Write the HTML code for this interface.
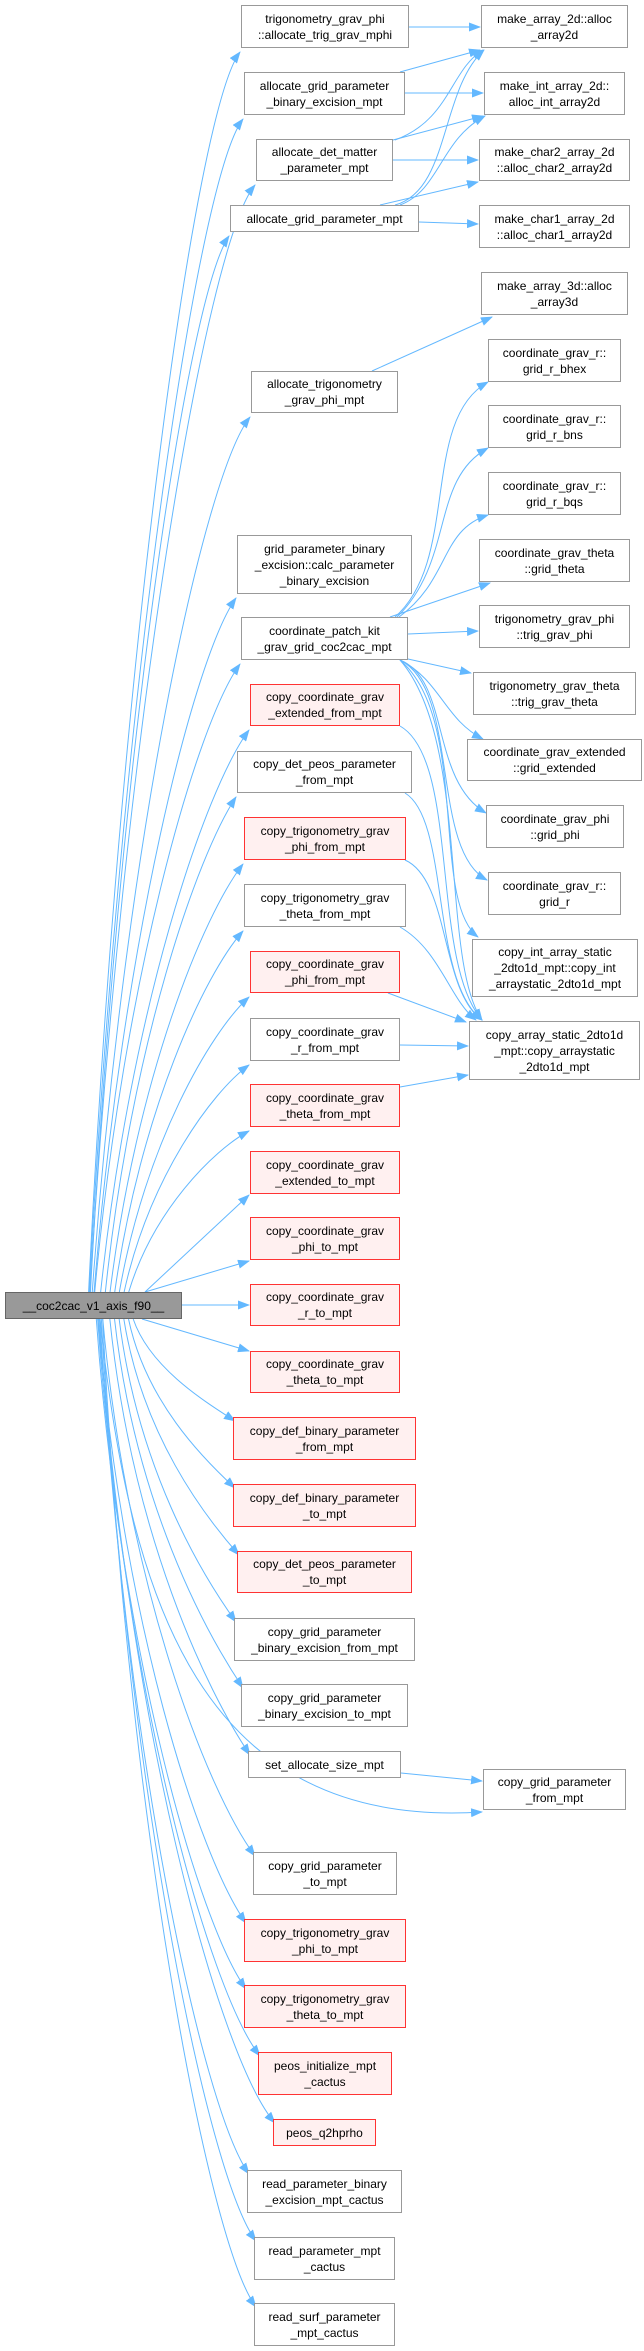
<!DOCTYPE html>
<html><head><meta charset="utf-8">
<style>
html,body{margin:0;padding:0;background:#fff;}
body{width:644px;height:2351px;position:relative;overflow:hidden;font-family:"Liberation Sans",sans-serif;}
.n{position:absolute;box-sizing:border-box;border:1px solid #999;background:#fff;display:flex;align-items:center;justify-content:center;text-align:center;font-size:12px;line-height:16px;color:#000;white-space:nowrap;}
.r{border-color:#f33;background:#fff0f0;}
.m{background:#999;border-color:#666;}
svg{position:absolute;left:0;top:0;}
</style></head><body>
<svg id="s" width="644" height="2351" viewBox="0 0 644 2351">
<defs><marker id="a" markerWidth="12" markerHeight="9" refX="11" refY="4.5" orient="auto" markerUnits="userSpaceOnUse"><path d="M0,0 L12,4.5 L0,9 z" fill="#63b8ff"/></marker></defs>
<g id="g" fill="none" stroke="#63b8ff" stroke-width="1" marker-end="url(#a)"></g>
</svg>

<div class="n m" style="left:5px;top:1292px;width:177px;height:27px">__coc2cac_v1_axis_f90__</div>

<div class="n" style="left:241px;top:5px;width:168px;height:43px">trigonometry_grav_phi<br>::allocate_trig_grav_mphi</div>
<div class="n" style="left:244px;top:72px;width:161px;height:43px">allocate_grid_parameter<br>_binary_excision_mpt</div>
<div class="n" style="left:256px;top:139px;width:137px;height:42px">allocate_det_matter<br>_parameter_mpt</div>
<div class="n" style="left:230px;top:205px;width:189px;height:27px">allocate_grid_parameter_mpt</div>
<div class="n" style="left:251px;top:371px;width:147px;height:42px">allocate_trigonometry<br>_grav_phi_mpt</div>
<div class="n" style="left:237px;top:535px;width:175px;height:59px">grid_parameter_binary<br>_excision::calc_parameter<br>_binary_excision</div>
<div class="n" style="left:241px;top:617px;width:167px;height:43px">coordinate_patch_kit<br>_grav_grid_coc2cac_mpt</div>
<div class="n r" style="left:250px;top:684px;width:150px;height:42px">copy_coordinate_grav<br>_extended_from_mpt</div>
<div class="n" style="left:237px;top:751px;width:175px;height:42px">copy_det_peos_parameter<br>_from_mpt</div>
<div class="n r" style="left:244px;top:817px;width:162px;height:43px">copy_trigonometry_grav<br>_phi_from_mpt</div>
<div class="n" style="left:244px;top:884px;width:162px;height:43px">copy_trigonometry_grav<br>_theta_from_mpt</div>
<div class="n r" style="left:250px;top:951px;width:150px;height:42px">copy_coordinate_grav<br>_phi_from_mpt</div>
<div class="n" style="left:250px;top:1018px;width:150px;height:43px">copy_coordinate_grav<br>_r_from_mpt</div>
<div class="n r" style="left:250px;top:1084px;width:150px;height:43px">copy_coordinate_grav<br>_theta_from_mpt</div>
<div class="n r" style="left:250px;top:1151px;width:150px;height:43px">copy_coordinate_grav<br>_extended_to_mpt</div>
<div class="n r" style="left:250px;top:1217px;width:150px;height:43px">copy_coordinate_grav<br>_phi_to_mpt</div>
<div class="n r" style="left:250px;top:1284px;width:150px;height:42px">copy_coordinate_grav<br>_r_to_mpt</div>
<div class="n r" style="left:250px;top:1351px;width:150px;height:42px">copy_coordinate_grav<br>_theta_to_mpt</div>
<div class="n r" style="left:233px;top:1417px;width:183px;height:43px">copy_def_binary_parameter<br>_from_mpt</div>
<div class="n r" style="left:233px;top:1484px;width:183px;height:43px">copy_def_binary_parameter<br>_to_mpt</div>
<div class="n r" style="left:237px;top:1551px;width:175px;height:42px">copy_det_peos_parameter<br>_to_mpt</div>
<div class="n" style="left:234px;top:1618px;width:181px;height:43px">copy_grid_parameter<br>_binary_excision_from_mpt</div>
<div class="n" style="left:241px;top:1684px;width:167px;height:43px">copy_grid_parameter<br>_binary_excision_to_mpt</div>
<div class="n" style="left:248px;top:1751px;width:153px;height:27px">set_allocate_size_mpt</div>
<div class="n" style="left:253px;top:1852px;width:144px;height:43px">copy_grid_parameter<br>_to_mpt</div>
<div class="n r" style="left:244px;top:1919px;width:162px;height:43px">copy_trigonometry_grav<br>_phi_to_mpt</div>
<div class="n r" style="left:244px;top:1985px;width:162px;height:43px">copy_trigonometry_grav<br>_theta_to_mpt</div>
<div class="n r" style="left:258px;top:2052px;width:134px;height:43px">peos_initialize_mpt<br>_cactus</div>
<div class="n r" style="left:273px;top:2119px;width:103px;height:27px">peos_q2hprho</div>
<div class="n" style="left:247px;top:2170px;width:155px;height:43px">read_parameter_binary<br>_excision_mpt_cactus</div>
<div class="n" style="left:254px;top:2237px;width:141px;height:43px">read_parameter_mpt<br>_cactus</div>
<div class="n" style="left:254px;top:2303px;width:141px;height:43px">read_surf_parameter<br>_mpt_cactus</div>

<div class="n" style="left:481px;top:5px;width:147px;height:43px">make_array_2d::alloc<br>_array2d</div>
<div class="n" style="left:484px;top:72px;width:141px;height:43px">make_int_array_2d::<br>alloc_int_array2d</div>
<div class="n" style="left:479px;top:139px;width:151px;height:42px">make_char2_array_2d<br>::alloc_char2_array2d</div>
<div class="n" style="left:479px;top:205px;width:151px;height:43px">make_char1_array_2d<br>::alloc_char1_array2d</div>
<div class="n" style="left:481px;top:272px;width:147px;height:43px">make_array_3d::alloc<br>_array3d</div>
<div class="n" style="left:488px;top:339px;width:133px;height:43px">coordinate_grav_r::<br>grid_r_bhex</div>
<div class="n" style="left:488px;top:405px;width:133px;height:43px">coordinate_grav_r::<br>grid_r_bns</div>
<div class="n" style="left:488px;top:472px;width:133px;height:43px">coordinate_grav_r::<br>grid_r_bqs</div>
<div class="n" style="left:479px;top:539px;width:151px;height:43px">coordinate_grav_theta<br>::grid_theta</div>
<div class="n" style="left:479px;top:605px;width:151px;height:43px">trigonometry_grav_phi<br>::trig_grav_phi</div>
<div class="n" style="left:473px;top:672px;width:163px;height:43px">trigonometry_grav_theta<br>::trig_grav_theta</div>
<div class="n" style="left:467px;top:739px;width:175px;height:42px">coordinate_grav_extended<br>::grid_extended</div>
<div class="n" style="left:486px;top:805px;width:138px;height:43px">coordinate_grav_phi<br>::grid_phi</div>
<div class="n" style="left:488px;top:872px;width:133px;height:43px">coordinate_grav_r::<br>grid_r</div>
<div class="n" style="left:472px;top:939px;width:166px;height:58px">copy_int_array_static<br>_2dto1d_mpt::copy_int<br>_arraystatic_2dto1d_mpt</div>
<div class="n" style="left:469px;top:1021px;width:171px;height:59px">copy_array_static_2dto1d<br>_mpt::copy_arraystatic<br>_2dto1d_mpt</div>
<div class="n" style="left:483px;top:1769px;width:143px;height:41px">copy_grid_parameter<br>_from_mpt</div>

<script>
var g=document.getElementById('g');
function P(d){var p=document.createElementNS('http://www.w3.org/2000/svg','path');p.setAttribute('d',d);g.appendChild(p);}
function L(a,b,c,d){P('M'+a+','+b+' L'+c+','+d);}
function C(a,b,c1x,c1y,c2x,c2y,c,d){P('M'+a+','+b+' C'+c1x+','+c1y+' '+c2x+','+c2y+' '+c+','+d);}
var T=[[241,5,48],[244,72,115],[256,139,181],[230,205,232],[251,371,413],[237,535,594],[241,617,660],[250,684,726],[237,751,793],[244,817,860],[244,884,927],[250,951,993],[250,1018,1061],[250,1084,1127],[250,1151,1194],[250,1217,1260],
[233,1417,1460],[233,1484,1527],[237,1551,1593],[234,1618,1661],[241,1684,1727],[248,1751,1778],[253,1852,1895],[244,1919,1962],[244,1985,2028],[258,2052,2095],[273,2119,2146],[247,2170,2213],[254,2237,2280],[254,2303,2346]];
T.forEach(function(t){
 var x=t[0];
 if(t[2]<1292){
  var tx=x-1,ty=t[2]+4,sy=1292,dy=sy-ty;
  var sx=dy>600?95+(dy-600)*-0.01:140-dy*0.07; if(dy<100){sx=145;}
  if(dy<100){L(sx,sy,tx,t[2]+1);return;}
  C(sx,sy, sx+(tx-sx)*0.2, sy-dy*0.5, tx-(tx-sx)*0.3, ty+Math.min(60,dy*0.12), tx,ty);
 } else {
  var tx=x+10,ty=t[1]-1,sy=1319,dy=ty-sy;
  var sx=dy>600?95+(dy-600)*0.02:140-dy*0.07;
  C(sx,sy, sx+(tx-sx)*0.15, sy+dy*0.5, tx-(tx-sx)*0.35, ty-Math.min(60,dy*0.15), tx-8,ty+5);
 }
});
L(182,1305,249,1305);
L(142,1319,249,1351);
C(100,1319, 130,1600, 200,1830, 482,1812);
L(409,27,480,27);
L(400,72,480,50);
L(405,93,483,93);
C(395,140,450,120,450,70,483,50);
L(393,140,483,116);
L(393,160,478,160);
C(395,205,450,190,440,90,484,50);
C(400,205,440,190,440,140,485,116);
L(380,205,478,182);
L(419,222,478,224);
L(372,371,492,317);
C(395,617,460,560,420,420,488,382);
C(397,617,455,560,430,480,488,448);
C(399,617,450,580,440,530,488,515);
L(390,617,490,583);
L(408,634,478,631);
L(408,659,471,673);
C(400,660,440,680,445,720,483,739);
C(400,660,450,680,430,780,486,813);
C(400,660,460,690,430,850,487,880);
C(400,660,470,720,430,900,478,937);
C(400,660,470,740,440,960,482,1020);
C(400,726,460,760,430,960,482,1020);
C(405,793,450,820,430,980,482,1020);
C(405,860,450,880,440,990,482,1020);
C(400,927,440,950,450,1000,476,1020);
L(388,993,466,1022);
L(400,1045,468,1046);
L(400,1087,468,1075);
L(401,1773,482,1781);
</script>
</body></html>
